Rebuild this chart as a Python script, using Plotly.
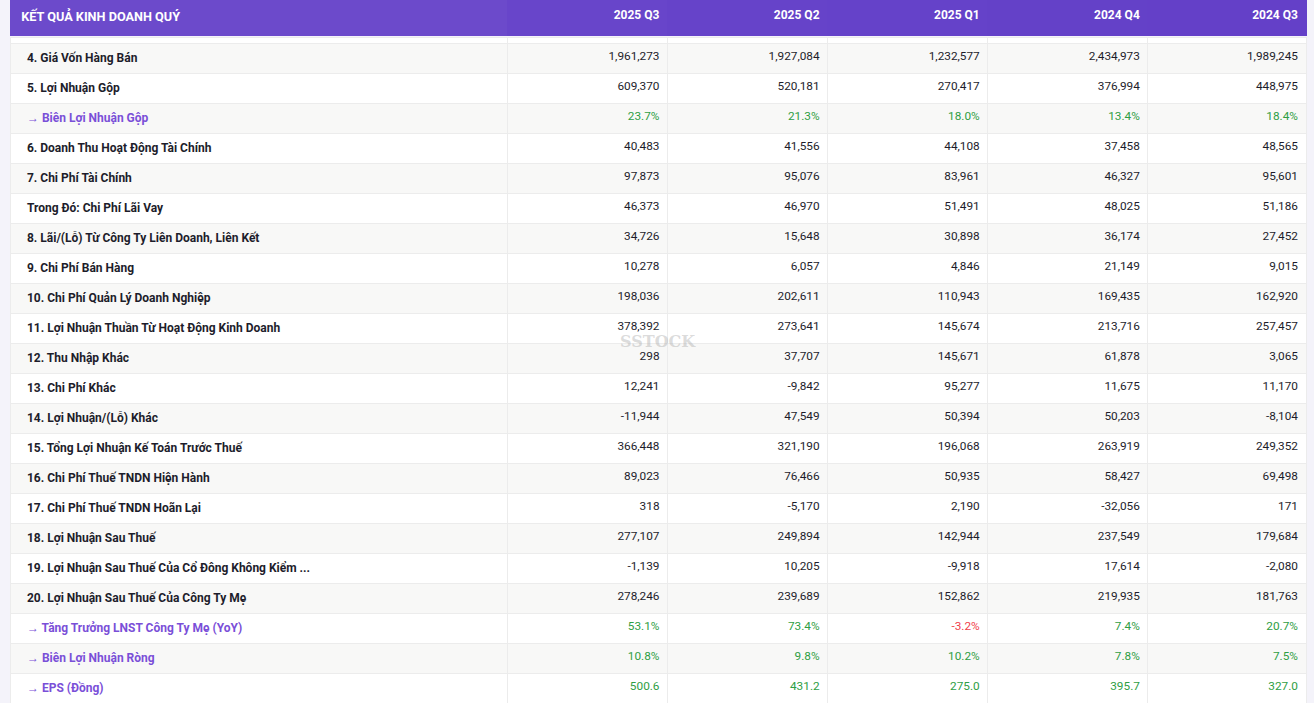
import plotly.graph_objects as go

# --- Data ---
title = "KẾT QUẢ KINH DOANH QUÝ"
quarters = ["2025 Q3", "2025 Q2", "2025 Q1", "2024 Q4", "2024 Q3"]

row_labels = [
    "4. Giá Vốn Hàng Bán",
    "5. Lợi Nhuận Gộp",
    "→ Biên Lợi Nhuận Gộp",
    "6. Doanh Thu Hoạt Động Tài Chính",
    "7. Chi Phí Tài Chính",
    "Trong Đó: Chi Phí Lãi Vay",
    "8. Lãi/(Lỗ) Từ Công Ty Liên Doanh, Liên Kết",
    "9. Chi Phí Bán Hàng",
    "10. Chi Phí Quản Lý Doanh Nghiệp",
    "11. Lợi Nhuận Thuần Từ Hoạt Động Kinh Doanh",
    "12. Thu Nhập Khác",
    "13. Chi Phí Khác",
    "14. Lợi Nhuận/(Lỗ) Khác",
    "15. Tổng Lợi Nhuận Kế Toán Trước Thuế",
    "16. Chi Phí Thuế TNDN Hiện Hành",
    "17. Chi Phí Thuế TNDN Hoãn Lại",
    "18. Lợi Nhuận Sau Thuế",
    "19. Lợi Nhuận Sau Thuế Của Cổ Đông Không Kiểm ...",
    "20. Lợi Nhuận Sau Thuế Của Công Ty Mẹ",
    "→ Tăng Trưởng LNST Công Ty Mẹ (YoY)",
    "→ Biên Lợi Nhuận Ròng",
    "→ EPS (Đồng)",
]

# "num" = plain figure, "pct" = ratio row, "eps" = per-share row
row_kinds = ["num", "num", "pct"] + ["num"] * 16 + ["pct", "pct", "eps"]

q3_2025 = [1961273, 609370, 23.7, 40483, 97873, 46373, 34726, 10278, 198036, 378392,
           298, 12241, -11944, 366448, 89023, 318, 277107, -1139, 278246, 53.1, 10.8, 500.6]
q2_2025 = [1927084, 520181, 21.3, 41556, 95076, 46970, 15648, 6057, 202611, 273641,
           37707, -9842, 47549, 321190, 76466, -5170, 249894, 10205, 239689, 73.4, 9.8, 431.2]
q1_2025 = [1232577, 270417, 18.0, 44108, 83961, 51491, 30898, 4846, 110943, 145674,
           145671, 95277, 50394, 196068, 50935, 2190, 142944, -9918, 152862, -3.2, 10.2, 275.0]
q4_2024 = [2434973, 376994, 13.4, 37458, 46327, 48025, 36174, 21149, 169435, 213716,
           61878, 11675, 50203, 263919, 58427, -32056, 237549, 17614, 219935, 7.4, 7.8, 395.7]
q3_2024 = [1989245, 448975, 18.4, 48565, 95601, 51186, 27452, 9015, 162920, 257457,
           3065, 11170, -8104, 249352, 69498, 171, 179684, -2080, 181763, 20.7, 7.5, 327.0]

series = [q3_2025, q2_2025, q1_2025, q4_2024, q3_2024]

# --- Styling ---
FONT = "Roboto"
DARK = "#1d1d2b"
PURPLE = "#7a4fd8"
GREEN = "#2f9e44"
RED = "#ef3e4a"
ROW_GRAY = "#f8f8f7"
LINE = "#ececec"
BG = "#f4f3fa"
header_fills = ["#6c4acb", "#6845ca", "#6643c9", "#6542c9", "#6441c8", "#6440c8"]


def fmt(v, kind):
    if kind == "pct":
        return f"{v:.1f}%"
    if kind == "eps":
        return f"{v:.1f}"
    return f"{v:,.0f}"


def color_for(v, kind):
    if kind == "num":
        return DARK
    return RED if v < 0 else GREEN


label_cells = ["\u00a0\u00a0\u00a0<b>" + lab + "</b>" for lab in row_labels]
label_colors = [PURPLE if lab.startswith("→") else DARK for lab in row_labels]

value_cols = [[fmt(v, k) for v, k in zip(s, row_kinds)] for s in series]
value_colors = [[color_for(v, k) for v, k in zip(s, row_kinds)] for s in series]

n = len(row_labels)
row_fill = [ROW_GRAY if i % 2 == 0 else "white" for i in range(n)]

W, H = 1314, 703
col_widths = [497, 160, 160, 160, 160, 158]

fig = go.Figure()

# header strip
fig.add_trace(go.Table(
    domain=dict(x=[0, 1], y=[1 - 37 / H, 1]),
    columnwidth=col_widths,
    header=dict(
        values=["\u00a0<b>" + title + "</b>"] + ["<b>" + q + "</b>" for q in quarters],
        fill_color=header_fills,
        line_color=header_fills,
        align=["left"] + ["right"] * 5,
        font=dict(family=FONT, size=[12.7] + [12] * 5, color="white"),
        height=37,
    ),
    cells=dict(values=[[] for _ in col_widths]),
))

# body rows (thin white header = tail of the row scrolled under the header)
fig.add_trace(go.Table(
    domain=dict(x=[0, 1], y=[0, 1 - 37 / H]),
    columnwidth=col_widths,
    header=dict(
        values=[""] * 6,
        fill_color="white",
        line_color=LINE,
        font=dict(size=1),
        height=6,
    ),
    cells=dict(
        values=[label_cells] + value_cols,
        fill_color=[row_fill] * 6,
        line_color=LINE,
        line_width=1,
        align=["left"] + ["right"] * 5,
        font=dict(family=FONT, size=[12] + [11.8] * 5,
                  color=[label_colors] + value_colors),
        height=30,
    ),
))

# faint watermark
fig.add_annotation(
    x=0.5, y=1 - 341 / H, xref="paper", yref="paper",
    text="<b>SSTOCK</b>", showarrow=False,
    font=dict(family="DejaVu Serif", size=16, color="rgba(175,175,175,0.45)"),
)

fig.update_layout(
    width=W, height=H,
    margin=dict(l=10, r=8, t=0, b=0),
    paper_bgcolor=BG,
    plot_bgcolor=BG,
)

fig.write_html(
    "out.html",
    config={"displayModeBar": False},
    post_script="document.body.style.margin='0';document.body.style.background='%s';" % BG,
)
